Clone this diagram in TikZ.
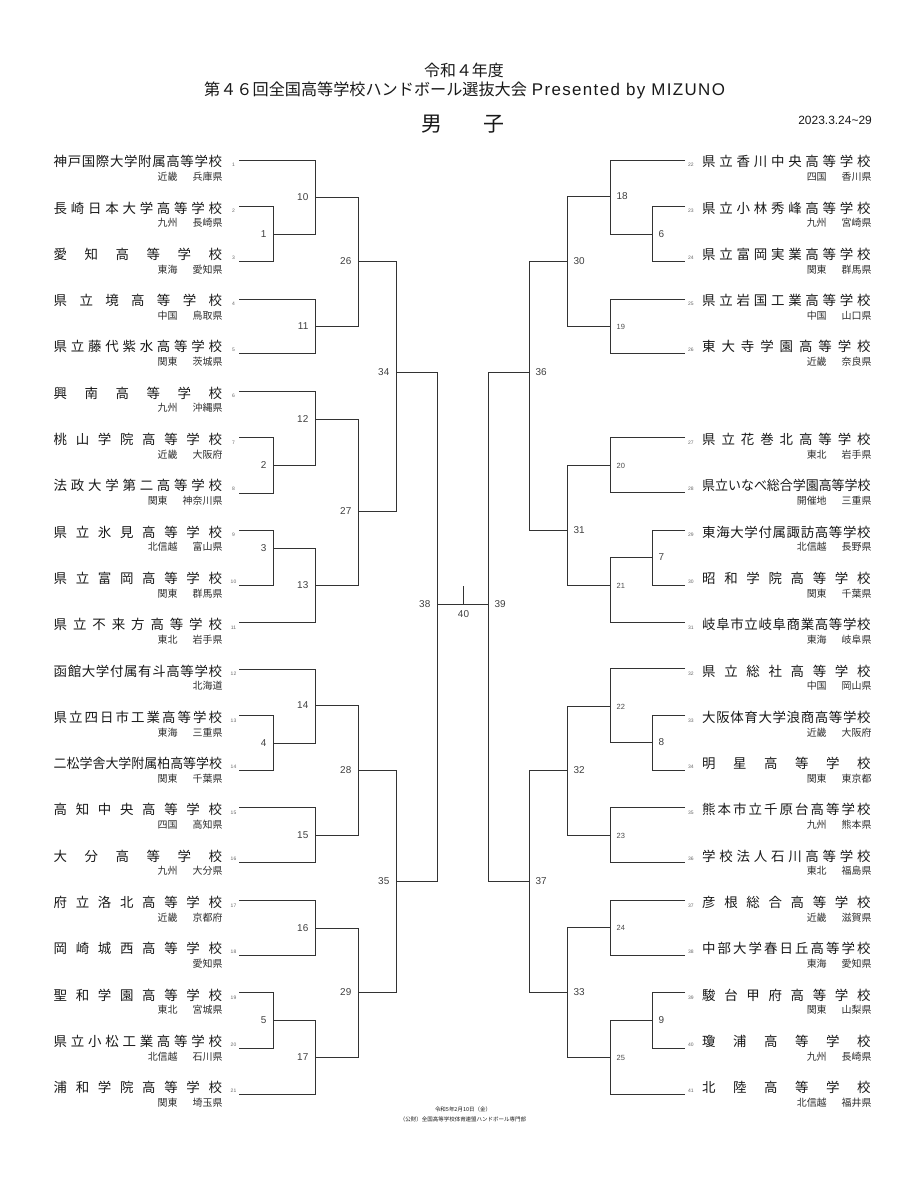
\documentclass[tikz,border=0pt]{standalone}
\usepackage{fontspec}
\usepackage{graphicx}
\setmainfont{Noto Sans CJK JP}
\newfontfamily\numfont{Liberation Sans}
\newfontfamily\ttlatin[LetterSpace=8]{Liberation Sans}
\newlength\nmw
\ExplSyntaxOn
\NewDocumentCommand\spreadname{m}{
  \settowidth\nmw{#1}
  \dim_compare:nNnTF {\nmw} > {169pt}
   { \resizebox{169pt}{\height}{#1} }
   { \makebox[169pt][l]{ \exp_args:No \tl_map_inline:nn {#1} {##1\hfill} \unskip } }
}
\ExplSyntaxOff
\begin{document}
\begin{tikzpicture}[x=1bp,y=-1bp,
  br/.style={draw=black!80,line width=1.4bp},
  nm/.style={inner sep=0pt,font=\fontsize{13.5}{14}\selectfont,text=black!90},
  rg/.style={inner sep=0pt,font=\fontsize{10}{11}\selectfont,text=black!82},
  tno/.style={inner sep=0pt,font=\numfont\fontsize{5}{6}\selectfont,text=black!60},
  lab/.style={inner sep=0pt,font=\numfont\fontsize{10}{11}\selectfont,text=black!75},
  labs/.style={inner sep=0pt,font=\numfont\fontsize{7.5}{8}\selectfont,text=black!70},
  ttl/.style={inner sep=0pt,text=black!90}
]
\useasboundingbox (0,0) rectangle (922,1200);
\fill[white] (0,0) rectangle (922,1200);

% title
\node[ttl,font=\fontsize{16}{17}\selectfont] (ti1) at (464,70) {令和４年度};
\node[ttl,anchor=west,font=\fontsize{16.2}{17}\selectfont] (ti2) at (204,90) {第４６回全国高等学校ハンドボール選抜大会\hspace{5pt}{\ttlatin\fontsize{17}{17}\selectfont Presented by MIZUNO}};
\node[ttl,font=\fontsize{21}{22}\selectfont] (ti3) at (463,124) {男\hspace{2em}子};
\node[ttl,anchor=east,font=\numfont\fontsize{12}{12}\selectfont] (date) at (872,120) {2023.3.24\textasciitilde 29};

% left teams
\foreach \n/\row/\ly/\nm/\ra/\rb in {
1/1/160.5/神戸国際大学附属高等学校/近畿/兵庫県,
2/2/206.5/長崎日本大学高等学校/九州/長崎県,
3/3/261.5/愛知高等学校/東海/愛知県,
4/4/299.5/県立境高等学校/中国/鳥取県,
5/5/353.5/県立藤代紫水高等学校/関東/茨城県,
6/6/391.5/興南高等学校/九州/沖縄県,
7/7/437.5/桃山学院高等学校/近畿/大阪府,
8/8/493.5/法政大学第二高等学校/関東/神奈川県,
9/9/530.5/県立氷見高等学校/北信越/富山県,
10/10/585.5/県立富岡高等学校/関東/群馬県,
11/11/622.5/県立不来方高等学校/東北/岩手県,
12/12/669.5/函館大学付属有斗高等学校//北海道,
13/13/715.5/県立四日市工業高等学校/東海/三重県,
14/14/770.5/二松学舎大学附属柏高等学校/関東/千葉県,
15/15/807.5/高知中央高等学校/四国/高知県,
16/16/862.5/大分高等学校/九州/大分県,
17/17/900.5/府立洛北高等学校/近畿/京都府,
18/18/955.5/岡崎城西高等学校//愛知県,
19/19/992.5/聖和学園高等学校/東北/宮城県,
20/20/1048.5/県立小松工業高等学校/北信越/石川県,
21/21/1094.5/浦和学院高等学校/関東/埼玉県}{
  \pgfmathsetmacro\yc{161.7+(\row-1)*46.3}
  \node[nm,anchor=base west] (n\n) at (53.5,\yc+5) {\spreadname{\nm}};
  \node[rg,anchor=base east] (r\n) at (222.7,\yc+18.7) {\ra\hspace{1.5em}\rb};
  \node[tno] (k\n) at (233.5,\yc+3) {\n};
  \coordinate (t\n) at (239,\ly);
}

% right teams
\foreach \n/\row/\ly/\nm/\ra/\rb in {
22/1/160.5/県立香川中央高等学校/四国/香川県,
23/2/206.5/県立小林秀峰高等学校/九州/宮崎県,
24/3/261.5/県立富岡実業高等学校/関東/群馬県,
25/4/299.5/県立岩国工業高等学校/中国/山口県,
26/5/353.5/東大寺学園高等学校/近畿/奈良県,
27/7/437.5/県立花巻北高等学校/東北/岩手県,
28/8/492.5/県立いなべ総合学園高等学校/開催地/三重県,
29/9/530.5/東海大学付属諏訪高等学校/北信越/長野県,
30/10/585.5/昭和学院高等学校/関東/千葉県,
31/11/622.5/岐阜市立岐阜商業高等学校/東海/岐阜県,
32/12/668.5/県立総社高等学校/中国/岡山県,
33/13/715.5/大阪体育大学浪商高等学校/近畿/大阪府,
34/14/770.5/明星高等学校/関東/東京都,
35/15/807.5/熊本市立千原台高等学校/九州/熊本県,
36/16/862.5/学校法人石川高等学校/東北/福島県,
37/17/900.5/彦根総合高等学校/近畿/滋賀県,
38/18/955.5/中部大学春日丘高等学校/東海/愛知県,
39/19/992.5/駿台甲府高等学校/関東/山梨県,
40/20/1048.5/瓊浦高等学校/九州/長崎県,
41/21/1094.5/北陸高等学校/北信越/福井県}{
  \pgfmathsetmacro\yc{161.7+(\row-1)*46.3}
  \node[nm,anchor=base west] (n\n) at (702,\yc+5) {\spreadname{\nm}};
  \node[rg,anchor=base east] (r\n) at (871.7,\yc+18.7) {\ra\hspace{1.5em}\rb};
  \node[tno,anchor=west] (k\n) at (688,\yc+3) {\n};
  \coordinate (t\n) at (685,\ly);
}

% left bracket
\foreach \m/\x/\y/\a/\b in {
1/273.5/234.5/t2/t3, 10/315.5/197.5/t1/m1, 11/315.5/326.5/t4/t5, 26/358.5/261.5/m10/m11,
2/273.5/465.5/t7/t8, 12/315.5/419.5/t6/m2, 3/273.5/548.5/t9/t10, 13/315.5/585.5/m3/t11,
27/358.5/511.5/m12/m13, 34/396.5/372.5/m26/m27,
4/273.5/743.5/t13/t14, 14/315.5/705.5/t12/m4, 15/315.5/835.5/t15/t16, 28/358.5/770.5/m14/m15,
16/315.5/928.5/t17/t18, 5/273.5/1020.5/t19/t20, 17/315.5/1057.5/m5/t21, 29/358.5/992.5/m16/m17,
35/396.5/881.5/m28/m29, 38/437.5/604.5/m34/m35}{
  \coordinate (m\m) at (\x,\y);
  \draw[br] (\a) -| (m\m) |- (\b);
  \node[lab,anchor=east] (L\m) at ([xshift=-7pt]m\m) {\m};
}

% right bracket
\foreach \m/\x/\y/\a/\b/\s in {
6/652.5/234.5/t23/t24/lab, 18/610.5/196.5/t22/m6/lab, 19/610.5/326.5/t25/t26/labs, 30/567.5/261.5/m18/m19/lab,
20/610.5/465.5/t27/t28/labs, 7/652.5/557.5/t29/t30/lab, 21/610.5/585.5/m7/t31/labs, 31/567.5/530.5/m20/m21/lab,
36/529.5/372.5/m30/m31/lab,
8/652.5/742.5/t33/t34/lab, 22/610.5/706.5/t32/m8/labs, 23/610.5/835.5/t35/t36/labs, 32/567.5/770.5/m22/m23/lab,
24/610.5/927.5/t37/t38/labs, 9/652.5/1020.5/t39/t40/lab, 25/610.5/1057.5/m9/t41/labs, 33/567.5/992.5/m24/m25/lab,
37/529.5/881.5/m32/m33/lab, 39/488.5/604.5/m36/m37/lab}{
  \coordinate (m\m) at (\x,\y);
  \draw[br] (\a) -| (m\m) |- (\b);
  \node[\s,anchor=west] (L\m) at ([xshift=6pt]m\m) {\m};
}

% final
\draw[br] (m38) -- (m39);
\coordinate (m40) at (463.5,604.5);
\coordinate (m40t) at (463.5,586);
\draw[br] (m40) -- (m40t);
\node[lab] (L40) at (463.5,614.5) {40};

% footer
\node[ttl,font=\fontsize{5.5}{6}\selectfont] (f1) at (463,1109) {令和5年2月10日（金）};
\node[ttl,font=\fontsize{5.5}{6}\selectfont] (f2) at (463,1119) {（公財）全国高等学校体育連盟ハンドボール専門部};
\end{tikzpicture}
\end{document}
